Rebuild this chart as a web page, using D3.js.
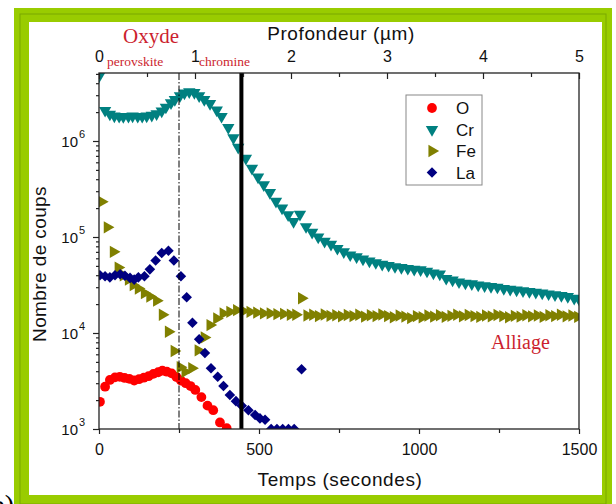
<!DOCTYPE html>
<html>
<head>
<meta charset="utf-8">
<script src="https://cdn.jsdelivr.net/npm/d3@7"></script>
<style>
  body { margin: 0; background: #fff; }
  svg { display: block; }
</style>
</head>
<body>
<div id="chart"></div>
<script>
// [time (s), counts]
const oxygen = [
  [3,1920],[19,2760],[34,3240],[50,3450],[65,3500],[80,3400],[95,3330],[110,3200],[125,3300],
  [140,3420],[155,3550],[170,3750],[185,3900],[198,4050],[212,3950],[227,3800],[242,3480],
  [256,3200],[271,3000],[286,2800],[301,2550],[320,2150],[339,1750],[357,1570],[378,1170],[399,1020]
];

const chromium = [
  [0,4.7e6],[19,2.08e6],[34,1.9e6],[48,1.82e6],[63,1.8e6],[76,1.79e6],[92,1.8e6],[105,1.82e6],
  [121,1.8e6],[135,1.8e6],[149,1.82e6],[165,1.85e6],[180,1.92e6],[196,2.05e6],[209,2.25e6],
  [225,2.5e6],[237,2.7e6],[253,2.95e6],[267,3.15e6],[282,3.25e6],[298,3.2e6],[313,2.95e6],
  [329,2.7e6],[347,2.45e6],[368,2.1e6],[383,1.8e6],[404,1.38e6],[420,1.08e6],[435,8.6e5],
  [459,6.6e5],[478,5.2e5],[497,4.2e5],[515,3.5e5],[534,2.9e5],[553,2.35e5],[572,2.0e5],
  [591,1.7e5],[608,1.45e5],[628,1.72e5],[647,1.28e5],[666,1.12e5],[685,1.0e5],[705,9.0e4],
  [725,8.4e4],[745,7.6e4],[765,7.0e4],[785,6.5e4],[805,6.2e4],[825,5.9e4],[845,5.6e4],
  [865,5.4e4],[885,5.2e4],[905,5.05e4],[925,4.9e4],[945,4.8e4],[965,4.7e4],[985,4.6e4],
  [1005,4.55e4],[1025,4.4e4],[1045,4.2e4],[1065,4.1e4],[1085,3.7e4],[1105,3.55e4],[1125,3.4e4],
  [1145,3.3e4],[1165,3.25e4],[1185,3.15e4],[1205,3.1e4],[1225,3.05e4],[1245,3.0e4],[1265,2.9e4],
  [1285,2.85e4],[1305,2.8e4],[1325,2.75e4],[1345,2.7e4],[1365,2.65e4],[1385,2.6e4],[1405,2.55e4],
  [1425,2.5e4],[1445,2.45e4],[1465,2.4e4],[1485,2.3e4],[1500,2.25e4]
];

const iron = [
  [8,2.33e5],[26,1.26e5],[45,7.0e4],[60,4.8e4],[76,4.0e4],[92,3.6e4],[107,3.15e4],[123,2.9e4],
  [142,2.6e4],[159,2.4e4],[180,2.17e4],[198,1.55e4],[217,1.03e4],[235,6.5e3],[254,4.4e3],
  [269,3.95e3],[290,4.3e3],[310,6.6e3],[329,9.0e3],[347,1.21e4],[368,1.42e4],[388,1.6e4],
  [409,1.66e4],[430,1.73e4],[451,1.69e4],[472,1.66e4],[493,1.63e4],[514,1.6e4],[535,1.6e4],
  [556,1.57e4],[577,1.58e4],[598,1.55e4],[615,1.55e4],[633,2.3e4],[650,1.52e4],[668,1.55e4],
  [686,1.5e4],[704,1.56e4],[722,1.51e4],[740,1.53e4],[758,1.49e4],[776,1.54e4],[794,1.5e4],
  [812,1.55e4],[830,1.48e4],[848,1.53e4],[866,1.5e4],[884,1.56e4],[902,1.5e4],[920,1.46e4],
  [938,1.52e4],[956,1.48e4],[974,1.43e4],[992,1.5e4],[1010,1.46e4],[1028,1.52e4],[1046,1.48e4],
  [1064,1.53e4],[1082,1.47e4],[1100,1.51e4],[1118,1.55e4],[1136,1.49e4],[1154,1.54e4],
  [1172,1.5e4],[1190,1.47e4],[1208,1.52e4],[1226,1.49e4],[1244,1.54e4],[1262,1.5e4],
  [1280,1.46e4],[1298,1.51e4],[1316,1.48e4],[1334,1.53e4],[1352,1.49e4],[1370,1.52e4],
  [1388,1.47e4],[1406,1.53e4],[1424,1.5e4],[1442,1.55e4],[1460,1.49e4],[1478,1.52e4],[1496,1.47e4]
];

const lanthanum = [
  [3,4.0e4],[19,3.9e4],[34,3.8e4],[50,4.0e4],[66,4.1e4],[81,3.95e4],[97,3.75e4],[110,3.6e4],
  [123,3.8e4],[142,3.9e4],[159,4.6e4],[177,5.7e4],[196,6.8e4],[217,7.2e4],[234,5.7e4],
  [256,3.9e4],[274,2.36e4],[292,1.28e4],[313,8.6e3],[331,6.2e3],[350,4.3e3],[371,3.5e3],
  [389,2.8e3],[409,2.26e3],[428,1.95e3],[446,1.75e3],[467,1.57e3],[488,1.4e3],[503,1.29e3],
  [519,1.25e3],[538,1.0e3],[556,1.0e3],[574,1.0e3],[592,1.0e3],[610,1.0e3],[633,4.2e3]
];

const timeTicks = [0, 500, 1000, 1500];
const depthTicks = [0, 1, 2, 3, 4, 5];
const countTicks = [1e3, 1e4, 1e5, 1e6];
const legendNames = ["O", "Cr", "Fe", "La"];

const width = 616, height = 504;
const plot = { left: 99, right: 579, top: 73, bottom: 429 };

const svg = d3.select("#chart").append("svg")
    .attr("width", width)
    .attr("height", height)
    .style("font-family", "'Liberation Sans', Arial, sans-serif");

// green frame
svg.append("rect").attr("x", 14).attr("y", 8).attr("width", 598).attr("height", 500).attr("fill", "#99cc00");
svg.append("rect").attr("x", 20).attr("y", 14).attr("width", 586).attr("height", 490)
    .attr("fill", "none").attr("stroke", "#7aa800").attr("stroke-width", 1);
svg.append("rect").attr("x", 29).attr("y", 22).attr("width", 573).attr("height", 473).attr("fill", "#fff");

svg.append("text").attr("x", 14).attr("y", 514).attr("text-anchor", "end")
    .style("font-family", "'Liberation Serif', serif").style("font-size", "28px")
    .attr("fill", "#000").text("b)");

const x = d3.scaleLinear().domain([0, 1500]).range([plot.left, plot.right]);
const xDepth = d3.scaleLinear().domain([0, 5]).range([plot.left, plot.right]);
const y = d3.scaleLog().domain([1e3, Math.pow(10, 3 + 356 / 96)]).range([plot.bottom, plot.top]);

svg.append("clipPath").attr("id", "clip")
  .append("rect")
    .attr("x", plot.left).attr("y", plot.top)
    .attr("width", plot.right - plot.left).attr("height", plot.bottom - plot.top);

const series = [
  { name: "O", data: oxygen, color: "#ff0000", shape: d3.symbolCircle, size: 75, rotate: 0 },
  { name: "Cr", data: chromium, color: "#008080", shape: d3.symbolTriangle, size: 66, rotate: 180 },
  { name: "Fe", data: iron, color: "#808000", shape: d3.symbolTriangle, size: 66, rotate: 90 },
  { name: "La", data: lanthanum, color: "#000080", shape: d3.symbolSquare, size: 56, rotate: 45 }
];

const marks = svg.append("g").attr("clip-path", "url(#clip)");

series.forEach(s => {
  const sym = d3.symbol().type(s.shape).size(s.size);
  marks.append("g").selectAll("path")
    .data(s.data)
    .enter().append("path")
      .attr("d", sym)
      .attr("transform", d => `translate(${x(d[0])},${y(d[1])}) rotate(${s.rotate})`)
      .attr("fill", s.color);
});

// interface lines
svg.append("line")
    .attr("x1", x(250)).attr("x2", x(250)).attr("y1", plot.top).attr("y2", plot.bottom)
    .attr("stroke", "#000").attr("stroke-width", 1).attr("stroke-dasharray", "7,2,1.5,2");
svg.append("line")
    .attr("x1", x(445)).attr("x2", x(445)).attr("y1", plot.top).attr("y2", plot.bottom)
    .attr("stroke", "#000").attr("stroke-width", 4);

// frame
svg.append("rect")
    .attr("x", plot.left).attr("y", plot.top)
    .attr("width", plot.right - plot.left).attr("height", plot.bottom - plot.top)
    .attr("fill", "none").attr("stroke", "#222").attr("stroke-width", 1.3);

// bottom axis
const axisB = svg.append("g").attr("transform", `translate(0,${plot.bottom})`);
axisB.call(d3.axisBottom(x).tickValues([250, 750, 1250]).tickSize(4).tickFormat(""));
axisB.append("g").call(d3.axisBottom(x).tickValues(timeTicks).tickSize(5).tickPadding(10).tickFormat(d3.format("d")));

// top axis
const axisT = svg.append("g").attr("transform", `translate(0,${plot.top})`);
axisT.call(d3.axisTop(xDepth).tickValues([0.5, 1.5, 2.5, 3.5, 4.5]).tickSize(-4).tickFormat(""));
axisT.append("g").call(d3.axisTop(xDepth).tickValues(depthTicks).tickSize(-6).tickPadding(11).tickFormat(d3.format("d")));

// left axis
const minor = [];
countTicks.forEach(dec => { for (let k = 2; k <= 9; k++) if (dec * k <= y.domain()[1]) minor.push(dec * k); });
const axisL = svg.append("g").attr("transform", `translate(${plot.left},0)`);
axisL.call(d3.axisLeft(y).tickValues(minor).tickSize(3).tickFormat(""));
axisL.append("g").call(d3.axisLeft(y).tickValues(countTicks).tickSize(6).tickFormat(""));

[axisB, axisT, axisL].forEach(g => {
  g.selectAll(".domain").remove();
  g.selectAll(".tick line").attr("stroke", "#222").attr("stroke-width", 1.2);
  g.selectAll("text").attr("fill", "#111").style("font-family", "'Liberation Sans', Arial, sans-serif");
  g.attr("font-size", null).attr("font-family", null);
});
axisB.selectAll("text").style("font-size", "16px");
axisT.selectAll("text").style("font-size", "16px");

countTicks.forEach(v => {
  const ty = y(v);
  svg.append("text").attr("x", 78).attr("y", ty + 5.5).attr("text-anchor", "end")
      .style("font-size", "15px").attr("fill", "#111").text("10");
  svg.append("text").attr("x", 79).attr("y", ty - 3).attr("text-anchor", "start")
      .style("font-size", "11px").attr("fill", "#111").text(Math.round(Math.log10(v)));
});

// axis titles
svg.append("text").attr("x", 340).attr("y", 486).attr("text-anchor", "middle")
    .style("font-size", "19px").style("letter-spacing", "0.6px").attr("fill", "#111").text("Temps (secondes)");
svg.append("text").attr("x", 341).attr("y", 40).attr("text-anchor", "middle")
    .style("font-size", "19px").style("letter-spacing", "0.6px").attr("fill", "#111").text("Profondeur (µm)");
svg.append("text").attr("transform", "translate(46,264) rotate(-90)").attr("text-anchor", "middle")
    .style("font-size", "19px").style("letter-spacing", "0.4px").attr("fill", "#111").text("Nombre de coups");

// region annotations
const red = "#cc1f2f";
const serif = "'Liberation Serif', 'Times New Roman', serif";
svg.append("text").attr("x", 123).attr("y", 43).style("font-family", serif).style("font-size", "21px")
    .attr("fill", red).text("Oxyde");
svg.append("text").attr("x", 107).attr("y", 66).style("font-family", serif).style("font-size", "13.5px")
    .attr("fill", red).text("perovskite");
svg.append("text").attr("x", 199).attr("y", 66).style("font-family", serif).style("font-size", "13.5px")
    .attr("fill", red).text("chromine");
svg.append("text").attr("x", 491).attr("y", 349).style("font-family", serif).style("font-size", "20px")
    .attr("fill", red).text("Alliage");

// legend
const legend = svg.append("g");
legend.append("rect").attr("x", 406).attr("y", 95).attr("width", 76).attr("height", 90)
    .attr("fill", "#fff").attr("stroke", "#888").attr("stroke-width", 1);
series.forEach((s, i) => {
  const ly = 108 + i * 21.5;
  legend.append("path")
      .attr("d", d3.symbol().type(s.shape).size(s.size)())
      .attr("transform", `translate(432,${ly}) rotate(${s.rotate})`)
      .attr("fill", s.color);
  legend.append("text").attr("x", 456).attr("y", ly + 6)
      .style("font-size", "17px").attr("fill", "#111").text(legendNames[i]);
});
</script>
</body>
</html>
